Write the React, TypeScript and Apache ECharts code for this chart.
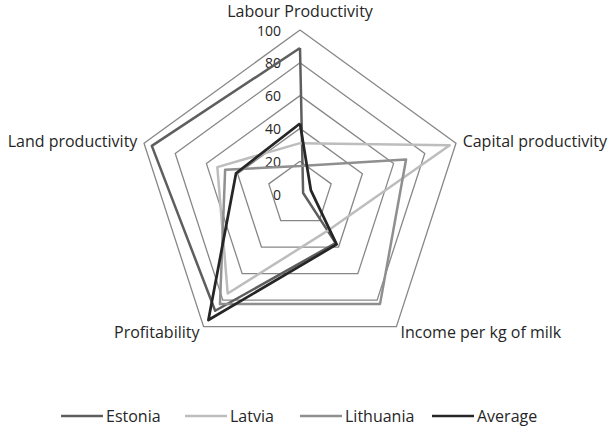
import React, { useEffect, useRef } from "react";
import * as echarts from "echarts";

const indicators = ["Labour Productivity", "Land productivity", "Profitability", "Income per kg of milk", "Capital productivity"];
const estonia = [89, 95, 88, 37, 2];
const latvia = [31, 53, 75, 28, 96];
const lithuania = [17, 48, 83, 83, 68];
const average = [43, 41, 95, 38, 7];
const seriesNames = ["Estonia", "Latvia", "Lithuania", "Average"];
const seriesColors = ["#5e5e5e", "#bdbdbd", "#8f8f8f", "#262626"];
const legendLefts = [61, 185, 300, 432];

const FONT = "Open Sans";
const FS = 16;

export default function App() {
  const ref = useRef<HTMLDivElement>(null);
  useEffect(() => {
    if (!ref.current) return;
    const chart = echarts.init(ref.current, undefined, { renderer: "svg" });
    const values = [estonia, latvia, lithuania, average];
    chart.setOption({
      animation: false,
      backgroundColor: "#ffffff",
      textStyle: { fontFamily: FONT },
      legend: seriesNames.map((n, i) => ({
        data: [n],
        left: legendLefts[i],
        top: 408,
        padding: 0,
        icon: "rect",
        itemWidth: 42,
        itemHeight: 2.5,
        itemGap: 4,
        textStyle: { color: "#262626", fontSize: FS, fontFamily: FONT, padding: [0, 0, 0, -2] },
      })),
      radar: {
        center: [300, 194],
        radius: 164,
        startAngle: 90,
        splitNumber: 5,
        shape: "polygon",
        nameGap: 7,
        axisName: { color: "#262626", fontSize: FS, fontFamily: FONT, lineHeight: 16 },
        axisLine: { show: false },
        axisTick: { show: false },
        axisLabel: { show: false },
        splitArea: { show: false },
        splitLine: { lineStyle: { color: "#878787", width: 1.3 } },
        indicator: indicators.map((name, i) => ({
          name,
          min: 0,
          max: 100,
          ...(i === 0
            ? {
                nameGap: 11,
                axisLabel: {
                  show: true,
                  margin: 19,
                  color: "#262626",
                  fontSize: 14,
                  fontFamily: FONT,
                  lineHeight: 12,
                },
              }
            : {}),
        })),
      },
      series: [
        {
          type: "radar",
          symbol: "none",
          data: values.map((v, i) => ({
            name: seriesNames[i],
            value: v,
            lineStyle: { color: seriesColors[i], width: i === 3 ? 2.75 : 2.5 },
            itemStyle: { color: seriesColors[i] },
          })),
        },
      ],
    });
    return () => chart.dispose();
  }, []);
  return (
    <div
      ref={ref}
      style={{ position: "absolute", left: 0, top: 0, width: 616, height: 428 }}
    />
  );
}
